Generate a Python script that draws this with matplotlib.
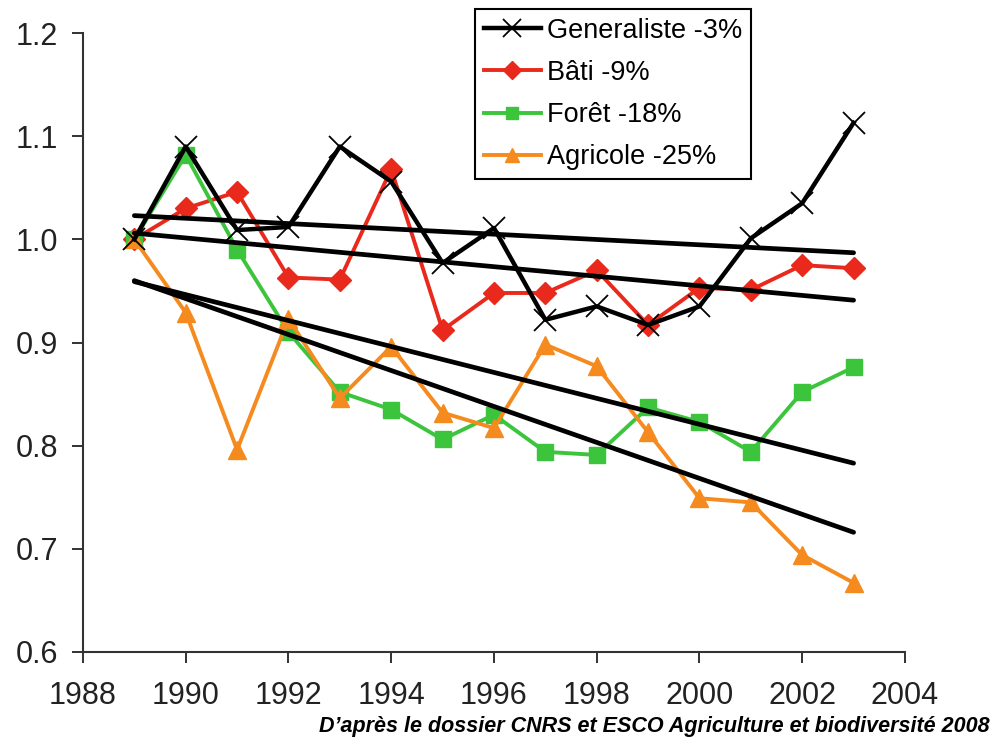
import matplotlib
matplotlib.use("Agg")
import matplotlib.pyplot as plt
from matplotlib.ticker import FormatStrFormatter

years = [1989, 1990, 1991, 1992, 1993, 1994, 1995, 1996, 1997, 1998, 1999, 2000, 2001, 2002, 2003]
generaliste = [1.000, 1.090, 1.009, 1.012, 1.090, 1.056, 0.977, 1.011, 0.922, 0.935, 0.917, 0.935, 1.001, 1.035, 1.113]
bati = [1.000, 1.030, 1.046, 0.963, 0.961, 1.068, 0.912, 0.948, 0.948, 0.970, 0.917, 0.953, 0.951, 0.975, 0.972]
foret = [1.000, 1.082, 0.990, 0.910, 0.852, 0.835, 0.806, 0.830, 0.794, 0.791, 0.837, 0.823, 0.794, 0.852, 0.876]
agricole = [1.000, 0.929, 0.796, 0.923, 0.846, 0.896, 0.832, 0.817, 0.898, 0.877, 0.813, 0.749, 0.745, 0.694, 0.667]

labels = ["Generaliste -3%", "Bâti -9%", "Forêt -18%", "Agricole -25%"]
trend_years = [1989, 2003]
trend_generaliste = [1.023, 0.987]
trend_bati = [1.006, 0.941]
trend_foret = [0.959, 0.783]
trend_agricole = [0.960, 0.716]

x_ticks = [1988, 1990, 1992, 1994, 1996, 1998, 2000, 2002, 2004]
y_ticks = [0.6, 0.7, 0.8, 0.9, 1.0, 1.1, 1.2]
source = "D\u2019après le dossier CNRS et ESCO Agriculture et biodiversité 2008"

plt.rcParams['font.family'] = ['Liberation Sans', 'DejaVu Sans']

fig = plt.figure(figsize=(9.96, 7.44), dpi=100)
ax = fig.add_axes([0.0833, 0.1237, 0.8253, 0.8319])

red = "#E8291C"
green = "#3CC43C"
orange = "#F58A1F"

l2, = ax.plot(years, bati, color=red, lw=2.8, marker="D", ms=11, mec=red, zorder=3, label=labels[1])
l3, = ax.plot(years, foret, color=green, lw=2.8, marker="s", ms=11, mec=green, zorder=3, label=labels[2])
l4, = ax.plot(years, agricole, color=orange, lw=2.8, marker="^", ms=13, mec=orange, zorder=3, label=labels[3])

for tr in (trend_generaliste, trend_bati, trend_foret, trend_agricole):
    ax.plot(trend_years, tr, color="black", lw=3.4, zorder=4, solid_capstyle="round")

l1, = ax.plot(years, generaliste, color="black", lw=3.2, marker="x", ms=16, mew=1.3, zorder=5, label=labels[0])

ax.set_xlim(1988, 2004)
ax.set_ylim(0.6, 1.2)
ax.set_xticks(x_ticks)
ax.set_yticks(y_ticks)
ax.yaxis.set_major_formatter(FormatStrFormatter("%.1f"))
ax.tick_params(axis="both", direction="out", length=8, width=1.3, labelsize=22, colors="#222222", pad=10)
ax.tick_params(axis="x", pad=13)
for s in ("top", "right"):
    ax.spines[s].set_visible(False)
for s in ("left", "bottom"):
    ax.spines[s].set_linewidth(1.5)
    ax.spines[s].set_color("#333333")

leg = fig.legend(handles=[l1, l2, l3, l4], loc="upper left", bbox_to_anchor=(475/996, 1 - 9/744),
                 fontsize=19.5, frameon=True, fancybox=False, edgecolor="black",
                 handlelength=2.1, handletextpad=0.25, borderpad=0.32, labelspacing=0.6,
                 borderaxespad=0)
leg.get_frame().set_linewidth(1.5)
leg.get_frame().set_alpha(1.0)
for h in leg.legend_handles:
    h.set_markersize(h.get_markersize() * 0.8)

fig.text(0.994, 0.010, source, ha="right", va="bottom", fontsize=15.5, fontweight="bold",
         fontstyle="italic")

fig.savefig("out.png", dpi=100)
